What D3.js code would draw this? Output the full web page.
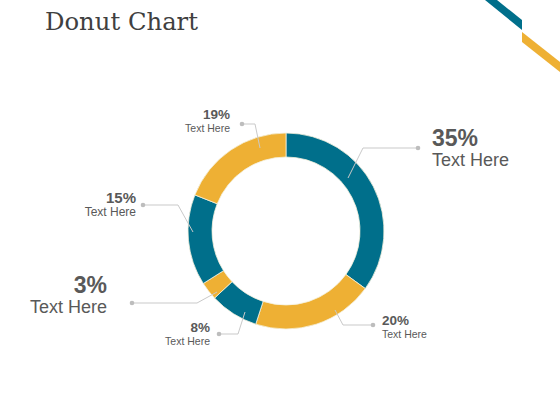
<!DOCTYPE html>
<html><head><meta charset="utf-8">
<script src="https://cdn.jsdelivr.net/npm/d3@7"></script>
<style>html,body{margin:0;padding:0;background:#fff;}svg{display:block;}</style>
</head><body>
<svg id="c" width="560" height="420"></svg>
<script>
// ---- data ----
const categories = ["A","B","C","D","E","F"];
const values = [35, 20, 8, 3, 15, 19];
const percentLabels = ["35%","20%","8%","3%","15%","19%"];
const subLabels = ["Text Here","Text Here","Text Here","Text Here","Text Here","Text Here"];
const colors = ["#006f8b","#eeb034","#006f8b","#eeb034","#006f8b","#eeb034"];

// ---- layout (label leader lines, text sizes) ----
const labelLayout = [
  {start:[348,178], elbow:[363,148], dot:[418,148], tx:432, anchor:"start", fb:23,   fs:18,   y1:146, y2:166},
  {start:[335,310], elbow:[343,325], dot:[373,325], tx:382, anchor:"start", fb:13.5, fs:10.5, y1:325, y2:338},
  {start:[245,312], elbow:[238,334], dot:[219,334], tx:210, anchor:"end",   fb:13.5, fs:10.5, y1:332, y2:345},
  {start:[217,292], elbow:[197,303], dot:[132,303], tx:107, anchor:"end",   fb:23,   fs:18,   y1:293, y2:313},
  {start:[193,232], elbow:[178,205], dot:[143,205], tx:136, anchor:"end",   fb:15,   fs:12,   y1:203, y2:216},
  {start:[260,148], elbow:[255,124], dot:[242,124], tx:230, anchor:"end",   fb:13.5, fs:10.5, y1:119, y2:132}
];

const svg = d3.select("#c");
const cx = 286, cy = 231, R = 98, r = 74;

// title
svg.append("text").attr("x",45).attr("y",30)
  .attr("font-family","'DejaVu Serif', 'Liberation Serif', serif")
  .attr("font-size",25).attr("fill","#404040")
  .attr("textLength",153).attr("lengthAdjust","spacingAndGlyphs")
  .text("Donut Chart");

// decorative stripes
svg.append("polygon").attr("points","485,0 497,0 522,20 522,30").attr("fill","#006f8b");
svg.append("polygon").attr("points","522,32 522,42 560,72 560,62").attr("fill","#eeb034");

const pie = d3.pie().sort(null).value(d=>d)(values);
const arc = d3.arc().innerRadius(r).outerRadius(R);
const g = svg.append("g").attr("transform",`translate(${cx},${cy})`);
g.selectAll("path").data(pie).join("path")
  .attr("d",arc).attr("fill",(d,i)=>colors[i])
  .attr("stroke","#f4f0dc").attr("stroke-width",0.8);

// leader lines and labels
const lg = svg.append("g");
labelLayout.forEach((L,i)=>{
  lg.append("polyline")
    .attr("points",[L.start,L.elbow,L.dot].map(p=>p.join(",")).join(" "))
    .attr("fill","none").attr("stroke","#c9c9c9").attr("stroke-width",1);
  lg.append("circle").attr("cx",L.dot[0]).attr("cy",L.dot[1]).attr("r",2.3).attr("fill","#bdbdbd");
  lg.append("text").attr("x",L.tx).attr("y",L.y1).attr("text-anchor",L.anchor)
    .attr("font-family","'Liberation Sans', Arial, sans-serif").attr("font-weight","bold")
    .attr("font-size",L.fb).attr("fill","#595959").text(percentLabels[i]);
  lg.append("text").attr("x",L.tx).attr("y",L.y2).attr("text-anchor",L.anchor)
    .attr("font-family","'Liberation Sans', Arial, sans-serif")
    .attr("font-size",L.fs).attr("fill","#595959").text(subLabels[i]);
});
</script>
</body></html>
